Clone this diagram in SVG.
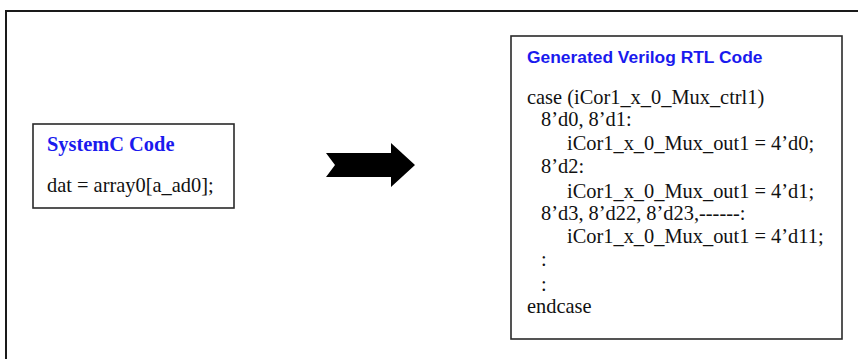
<svg xmlns="http://www.w3.org/2000/svg" width="858" height="359" viewBox="0 0 858 359">
<style>
.frame{fill:none;stroke:#1a1a1a;stroke-width:2}
.box{fill:#fff;stroke:#2a2a2a;stroke-width:1.6}
.code{font-family:"Liberation Serif","Times New Roman",serif;font-size:20.4px;fill:#111}
.t1{font-family:"Liberation Serif","Times New Roman",serif;font-size:20.4px;font-weight:bold;fill:#1a1aee}
.t2{font-family:"Liberation Sans",Arial,sans-serif;font-size:17.4px;font-weight:bold;fill:#1a1aee}
</style>
<rect x="0" y="0" width="858" height="359" fill="#fff"/>
<rect class="frame" x="6" y="11" width="900" height="400"/>
<g id="systemc">
<rect class="box" x="33" y="124" width="201" height="84"/>
<text class="t1" x="47" y="151">SystemC Code</text>
<text class="code" x="47" y="192">dat = array0[a_ad0];</text>
</g>
<g id="connectors">
<polygon points="326,153 391,153 391,143 415,165 391,187 391,177 326,177 335,165" fill="#000"/>
</g>
<g id="verilog">
<rect class="box" x="511" y="36" width="331" height="303"/>
<text class="t2" x="527" y="63">Generated Verilog RTL Code</text>
<text class="code" x="527" y="104">case (iCor1_x_0_Mux_ctrl1)</text>
<text class="code" x="541" y="126">8’d0, 8’d1:</text>
<text class="code" x="567" y="150">iCor1_x_0_Mux_out1 = 4’d0;</text>
<text class="code" x="541" y="173">8’d2:</text>
<text class="code" x="567" y="198">iCor1_x_0_Mux_out1 = 4’d1;</text>
<text class="code" x="541" y="220">8’d3, 8’d22, 8’d23,------:</text>
<text class="code" x="567" y="243">iCor1_x_0_Mux_out1 = 4’d11;</text>
<text class="code" x="541" y="266">:</text>
<text class="code" x="541" y="291">:</text>
<text class="code" x="527" y="313">endcase</text>
</g>
</svg>
